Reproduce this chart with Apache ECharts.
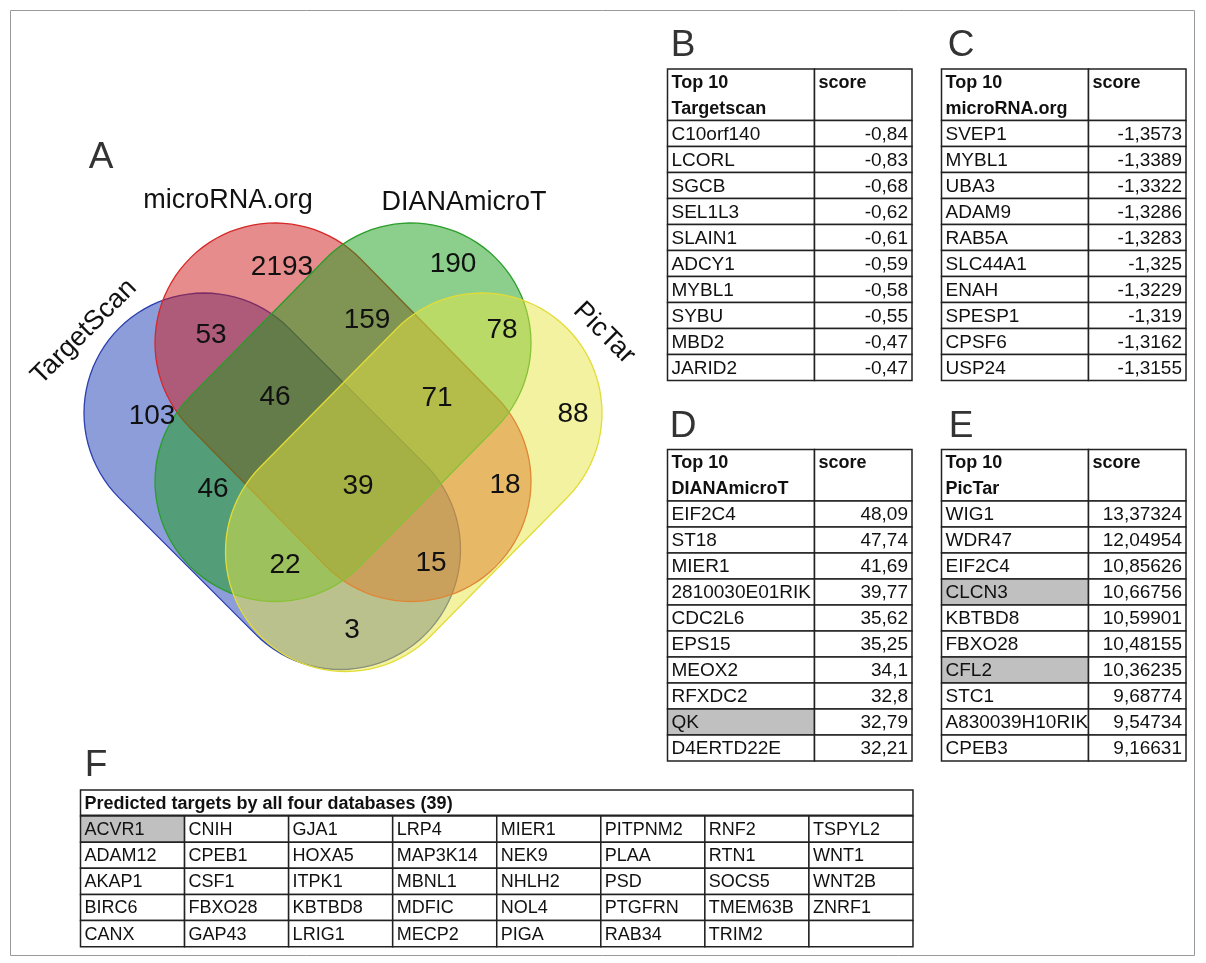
<!DOCTYPE html>
<html>
<head>
<meta charset="utf-8">
<title>miRNA target prediction overlap</title>
<script src="https://cdn.jsdelivr.net/npm/echarts@6/dist/echarts.min.js"></script>
<style>
  html, body { margin: 0; padding: 0; background: #fff; }
  #chart { width: 1206px; height: 963px; }
</style>
</head>
<body>
<div id="chart"></div>
<script>
// ---- data ----
var setNames = ['TargetScan', 'microRNA.org', 'DIANAmicroT', 'PicTar'];
// regions of the venn: T=TargetScan, M=microRNA.org, D=DIANAmicroT, P=PicTar
var regionSets = ['T', 'M', 'D', 'P', 'TM', 'MD', 'DP', 'TMD', 'MDP', 'TD', 'TMDP', 'MP', 'TDP', 'TMP', 'TP'];
var regionCounts = [103, 2193, 190, 88, 53, 159, 78, 46, 71, 46, 39, 18, 22, 15, 3];

var tsGenes = ['C10orf140', 'LCORL', 'SGCB', 'SEL1L3', 'SLAIN1', 'ADCY1', 'MYBL1', 'SYBU', 'MBD2', 'JARID2'];
var tsScores = [-0.84, -0.83, -0.68, -0.62, -0.61, -0.59, -0.58, -0.55, -0.47, -0.47];
var mrGenes = ['SVEP1', 'MYBL1', 'UBA3', 'ADAM9', 'RAB5A', 'SLC44A1', 'ENAH', 'SPESP1', 'CPSF6', 'USP24'];
var mrScores = [-1.3573, -1.3389, -1.3322, -1.3286, -1.3283, -1.325, -1.3229, -1.319, -1.3162, -1.3155];
var dmGenes = ['EIF2C4', 'ST18', 'MIER1', '2810030E01RIK', 'CDC2L6', 'EPS15', 'MEOX2', 'RFXDC2', 'QK', 'D4ERTD22E'];
var dmScores = [48.09, 47.74, 41.69, 39.77, 35.62, 35.25, 34.1, 32.8, 32.79, 32.21];
var ptGenes = ['WIG1', 'WDR47', 'EIF2C4', 'CLCN3', 'KBTBD8', 'FBXO28', 'CFL2', 'STC1', 'A830039H10RIK', 'CPEB3'];
var ptScores = [13.37324, 12.04954, 10.85626, 10.66756, 10.59901, 10.48155, 10.36235, 9.68774, 9.54734, 9.16631];

var commonTitle = 'Predicted targets by all four databases (39)';
var commonTargets = ['ACVR1', 'ADAM12', 'AKAP1', 'BIRC6', 'CANX',
  'CNIH', 'CPEB1', 'CSF1', 'FBXO28', 'GAP43',
  'GJA1', 'HOXA5', 'ITPK1', 'KBTBD8', 'LRIG1',
  'LRP4', 'MAP3K14', 'MBNL1', 'MDFIC', 'MECP2',
  'MIER1', 'NEK9', 'NHLH2', 'NOL4', 'PIGA',
  'PITPNM2', 'PLAA', 'PSD', 'PTGFRN', 'RAB34',
  'RNF2', 'RTN1', 'SOCS5', 'TMEM63B', 'TRIM2',
  'TSPYL2', 'WNT1', 'WNT2B', 'ZNRF1'];
var greyGenes = ['QK', 'CLCN3', 'CFL2', 'ACVR1'];

// ---- layout (page pixels) ----
var FONT = '"Liberation Sans", Arial, sans-serif';
var VENN_R = 120;
var vennShapes = [
  { c1: [204, 413], c2: [340.5, 549.5], fill: 'rgba(25,60,180,0.5)', stroke: '#2b3fae' },
  { c1: [275, 343], c2: [411, 481.5], fill: 'rgba(205,25,25,0.5)', stroke: '#d62828' },
  { c1: [411, 343], c2: [275, 481.5], fill: 'rgba(25,158,25,0.5)', stroke: '#2a9d2a' },
  { c1: [482, 413], c2: [345.5, 551.5], fill: 'rgba(232,230,65,0.5)', stroke: '#e2dc36' }
];
var regionPos = [[152, 416], [282, 267], [453, 264], [573, 414], [211, 335], [367, 320], [502, 330],
  [275, 397], [437, 398], [213, 489], [358, 486], [505, 485], [285, 565], [431, 563], [352, 630]];
var setLabelPos = [[84, 332, 45], [228, 201, 0], [464, 203, 0], [604, 333, -45]];
var letterPos = [[101, 158], [683, 46], [961, 46], [683, 427], [961, 427], [96, 766]];

var fCols = [];
for (var k = 0; k <= 8; k++) fCols.push(80.5 + k * 104.06);
var tables = [
  { title: 'Targetscan', genes: tsGenes, scores: tsScores, cols: [667.5, 814.5, 912], top: 69, headBottom: 120.5, rowH: 26 },
  { title: 'microRNA.org', genes: mrGenes, scores: mrScores, cols: [941.5, 1088.5, 1186], top: 69, headBottom: 120.5, rowH: 26 },
  { title: 'DIANAmicroT', genes: dmGenes, scores: dmScores, cols: [667.5, 814.5, 912], top: 449.5, headBottom: 501, rowH: 26 },
  { title: 'PicTar', genes: ptGenes, scores: ptScores, cols: [941.5, 1088.5, 1186], top: 449.5, headBottom: 501, rowH: 26 }
];
var fLayout = { cols: fCols, top: 790, headBottom: 816, rowH: 26.14 };

function fmt(v) { return String(v).replace('.', ','); }

function stadium(api, s) {
  var p1 = api.coord(s.c1), p2 = api.coord(s.c2);
  var r = api.size([VENN_R, 0])[0];
  var ang = Math.atan2(p2[1] - p1[1], p2[0] - p1[0]);
  var pts = [], i, a;
  for (i = 0; i <= 48; i++) {
    a = ang + Math.PI / 2 + Math.PI * i / 48;
    pts.push([p1[0] + r * Math.cos(a), p1[1] + r * Math.sin(a)]);
  }
  for (i = 0; i <= 48; i++) {
    a = ang - Math.PI / 2 + Math.PI * i / 48;
    pts.push([p2[0] + r * Math.cos(a), p2[1] + r * Math.sin(a)]);
  }
  return pts;
}

function cellBox(L, row, col, span) {
  var y0 = row === 0 ? L.top : L.headBottom + (row - 1) * L.rowH;
  var y1 = row === 0 ? L.headBottom : L.headBottom + row * L.rowH;
  return [L.cols[col], y0, L.cols[col + span], y1];
}

// cell lists
function topTenCells(t) {
  var cells = [
    { row: 0, col: 0, span: 1, text: 'Top 10\n' + t.title, header: true },
    { row: 0, col: 1, span: 1, text: 'score', header: true }
  ];
  t.genes.forEach(function (g, i) {
    cells.push({ row: i + 1, col: 0, span: 1, text: g, grey: greyGenes.indexOf(g) >= 0 });
    cells.push({ row: i + 1, col: 1, span: 1, text: fmt(t.scores[i]), right: true });
  });
  return cells;
}
function commonCells() {
  var cells = [{ row: 0, col: 0, span: 8, text: commonTitle, fHeader: true }];
  for (var c = 0; c < 8; c++) {
    for (var r = 0; r < 5; r++) {
      var g = commonTargets[c * 5 + r] || '';
      cells.push({ row: r + 1, col: c, span: 1, text: g, grey: greyGenes.indexOf(g) >= 0, small: true });
    }
  }
  return cells;
}

function tableSeries(L, cells) {
  return {
    type: 'custom',
    coordinateSystem: 'cartesian2d',
    silent: true,
    data: cells.map(function (c) { return [L.cols[c.col], L.top]; }),
    renderItem: function (params, api) {
      var c = cells[params.dataIndex];
      var b = cellBox(L, c.row, c.col, c.span);
      var p0 = api.coord([b[0], b[1]]), p1 = api.coord([b[2], b[3]]);
      var kids = [{
        type: 'rect',
        shape: { x: p0[0], y: p0[1], width: p1[0] - p0[0], height: p1[1] - p0[1] },
        style: { fill: c.grey ? '#c0c0c0' : '#fff', stroke: '#222', lineWidth: 1.5 }
      }];
      if (c.header) {
        kids.push({ type: 'text', x: p0[0] + 4, y: p0[1] + 1,
          style: { text: c.text, font: 'bold 18px ' + FONT, fill: '#111', align: 'left', verticalAlign: 'top', lineHeight: 26 } });
      } else if (c.fHeader) {
        kids.push({ type: 'text', x: p0[0] + 4, y: (p0[1] + p1[1]) / 2 + 1,
          style: { text: c.text, font: 'bold 18px ' + FONT, fill: '#111', align: 'left', verticalAlign: 'middle' } });
        kids.push({ type: 'line', shape: { x1: p0[0], y1: p1[1], x2: p1[0], y2: p1[1] },
          style: { stroke: '#222', lineWidth: 3 } });
      } else {
        kids.push({ type: 'text', x: c.right ? p1[0] - 4 : p0[0] + 4, y: (p0[1] + p1[1]) / 2 + 1,
          style: { text: c.text, font: (c.small ? 18 : 19) + 'px ' + FONT, fill: '#111',
            align: c.right ? 'right' : 'left', verticalAlign: 'middle' } });
      }
      return { type: 'group', children: kids };
    }
  };
}

var chart = echarts.init(document.getElementById('chart'), null, { renderer: 'canvas' });

var series = [
  {
    type: 'custom',
    name: 'venn',
    coordinateSystem: 'cartesian2d',
    silent: true,
    data: setNames.map(function (n, i) { return [vennShapes[i].c1[0], vennShapes[i].c1[1]]; }),
    renderItem: function (params, api) {
      var s = vennShapes[params.dataIndex];
      return {
        type: 'polygon',
        shape: { points: stadium(api, s) },
        style: { fill: s.fill, stroke: s.stroke, lineWidth: 1.3 }
      };
    }
  },
  {
    type: 'custom',
    name: 'counts',
    coordinateSystem: 'cartesian2d',
    silent: true,
    z: 5,
    data: regionCounts.map(function (c, i) { return [regionPos[i][0], regionPos[i][1], c]; }),
    renderItem: function (params, api) {
      var p = api.coord([api.value(0), api.value(1)]);
      return {
        type: 'text', x: p[0], y: p[1],
        style: { text: String(api.value(2)), font: '28px ' + FONT, fill: '#111', align: 'center', verticalAlign: 'middle' }
      };
    }
  }
];
tables.forEach(function (t) { series.push(tableSeries(t, topTenCells(t))); });
series.push(tableSeries(fLayout, commonCells()));

var graphics = [{
  type: 'rect', z: -10,
  shape: { x: 10.5, y: 10.5, width: 1184, height: 945 },
  style: { fill: 'none', stroke: '#999', lineWidth: 1 }
}];
setNames.forEach(function (n, i) {
  var p = setLabelPos[i];
  graphics.push({
    type: 'text', x: p[0], y: p[1], rotation: p[2] * Math.PI / 180,
    style: { text: n, font: '27px ' + FONT, fill: '#111', align: 'center', verticalAlign: 'middle' }
  });
});
['A', 'B', 'C', 'D', 'E', 'F'].forEach(function (l, i) {
  graphics.push({
    type: 'text', x: letterPos[i][0], y: letterPos[i][1],
    style: { text: l, font: '37px ' + FONT, fill: '#333', align: 'center', verticalAlign: 'middle' }
  });
});

chart.setOption({
  animation: false,
  backgroundColor: '#fff',
  grid: { left: 0, right: 0, top: 0, bottom: 0 },
  xAxis: { type: 'value', min: 0, max: 1206, show: false },
  yAxis: { type: 'value', min: 0, max: 963, inverse: true, show: false },
  graphic: graphics,
  series: series
});
</script>
</body>
</html>
